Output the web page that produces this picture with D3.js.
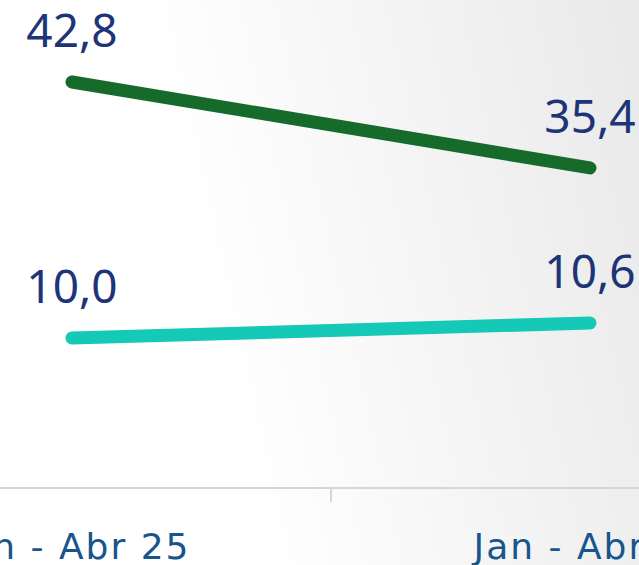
<!DOCTYPE html>
<html>
<head>
<meta charset="utf-8">
<script src="https://cdn.jsdelivr.net/npm/d3@7"></script>
<style>
  html, body { margin: 0; padding: 0; overflow: hidden; }
  svg { display: block; }
</style>
</head>
<body>
<svg id="chart" width="639" height="565"></svg>
<script>
// categories and series
const categories = ["Jan - Abr 25", "Jan - Abr 26"];
const darkValues = [42.8, 35.4];
const tealValues = [10.0, 10.6];

const svg = d3.select("#chart"),
  width = +svg.attr("width"),
  height = +svg.attr("height");

// background gradient
const defs = svg.append("defs");
const grad = defs.append("linearGradient")
  .attr("id", "bg")
  .attr("x1", "0").attr("y1", "0.2")
  .attr("x2", "1").attr("y2", "0");
grad.append("stop").attr("offset", "0.25").attr("stop-color", "#ffffff");
grad.append("stop").attr("offset", "1").attr("stop-color", "#e9e9e9");
svg.append("rect")
  .attr("width", width).attr("height", height)
  .attr("fill", "url(#bg)");

// x: band scale, points sit in the band centers
const x = d3.scaleBand()
  .domain(categories)
  .range([-187, 849]);
const cx = d => x(d) + x.bandwidth() / 2;

// two y axes (dual scales)
const yDark = d3.scaleLinear().domain([0, 42.8]).range([579, 82]);
const yTeal = d3.scaleLinear().domain([0, 10.6]).range([588, 323]);

const fmt = v => d3.format(".1f")(v).replace(".", ",");
const font = "Noto Sans, DejaVu Sans, sans-serif";

// x axis line + tick between categories
const axisY = 488;
svg.append("line")
  .attr("x1", 0).attr("x2", width)
  .attr("y1", axisY).attr("y2", axisY)
  .attr("stroke", "#d6d6d6").attr("stroke-width", 2);
svg.append("line")
  .attr("x1", x(categories[1])).attr("x2", x(categories[1]))
  .attr("y1", axisY).attr("y2", axisY + 14)
  .attr("stroke", "#d6d6d6").attr("stroke-width", 2);

svg.append("g")
  .selectAll("text")
  .data(categories)
  .enter()
  .append("text")
  .attr("x", d => cx(d) + 1)
  .attr("y", 559)
  .attr("text-anchor", "middle")
  .attr("font-family", "DejaVu Sans, sans-serif")
  .attr("font-size", 36)
  .attr("letter-spacing", 2)
  .attr("fill", "#17558c")
  .text(d => d);

function drawSeries(values, y, color) {
  const pts = values.map((v, i) => [cx(categories[i]), y(v)]);
  svg.append("path")
    .attr("d", d3.line()(pts))
    .attr("fill", "none")
    .attr("stroke", color)
    .attr("stroke-width", 13)
    .attr("stroke-linecap", "round");
  svg.append("g")
    .selectAll("text")
    .data(values)
    .enter()
    .append("text")
    .attr("x", (d, i) => cx(categories[i]))
    .attr("y", d => y(d) - 35)
    .attr("text-anchor", "middle")
    .attr("font-family", font)
    .attr("font-size", 46)
    .attr("fill", "#1d3478")
    .text(d => fmt(d));
}

drawSeries(darkValues, yDark, "#166b2a");
drawSeries(tealValues, yTeal, "#14c9b5");
</script>
</body>
</html>
